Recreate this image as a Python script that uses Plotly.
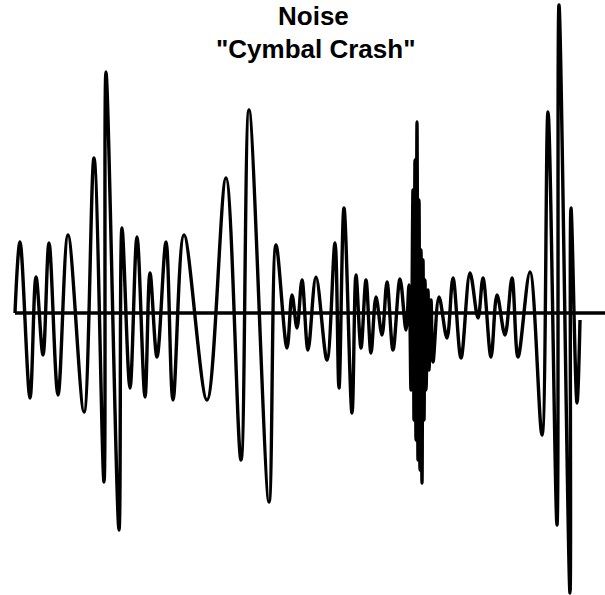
import plotly.graph_objects as go

BASE = 313
# extrema: (x pixel, y pixel)
t = [15, 20, 30, 36, 43, 49, 58, 68, 84, 94, 104, 106, 119, 122, 130, 137, 145, 150, 157, 166, 173, 184,
     207, 226, 241, 249, 269, 276, 287, 292, 297, 302, 308, 316, 327, 335, 339, 344, 352, 356, 361, 366,
     371, 376, 382, 387, 393, 400,
     406, 409, 411, 413, 414, 415, 416, 417, 418, 419, 420, 421, 422, 423, 424, 425, 426, 428, 429, 431, 433,
     439, 447, 453, 461, 470, 478, 483, 491, 497, 505, 512, 518, 530, 542, 548, 557, 559, 570, 571, 577, 580]
ypix = [313, 242, 398, 277, 355, 243, 395, 235, 412, 158, 482, 72, 530, 228, 388, 237, 397, 273, 357, 242, 400, 235,
        400, 178, 460, 110, 502, 245, 348, 295, 328, 280, 350, 277, 360, 243, 388, 208, 413, 275, 348, 280,
        353, 297, 335, 282, 350, 279,
        330, 285, 390, 190, 420, 160, 440, 122, 460, 200, 470, 250, 483, 260, 420, 280, 390, 290, 370, 300, 362,
        297, 338, 278, 358, 273, 318, 278, 357, 295, 335, 278, 357, 272, 435, 112, 525, 5, 593, 208, 403, 320]
amp = [BASE - v for v in ypix]

title_lines = ["Noise", "\"Cymbal Crash\""]

W, H = 605, 595

fig = go.Figure()
fig.add_trace(go.Scatter(x=[15, 605], y=[0, 0], mode="lines",
                         line=dict(color="black", width=3.5), hoverinfo="skip"))
fig.add_trace(go.Scatter(x=t, y=amp, mode="lines",
                         line=dict(color="black", width=3.4, shape="spline", smoothing=1.0),
                         hoverinfo="skip"))

fig.add_annotation(text="<b>%s</b>" % title_lines[0], xref="paper", yref="paper",
                   x=313 / W, y=1 - 16 / H, xanchor="center", yanchor="middle", showarrow=False,
                   font=dict(family="Liberation Sans Narrow, Arial Narrow, sans-serif", size=26, color="black"))
fig.add_annotation(text="<b>%s</b>" % title_lines[1], xref="paper", yref="paper",
                   x=316 / W, y=1 - 49 / H, xanchor="center", yanchor="middle", showarrow=False,
                   font=dict(family="Liberation Sans Narrow, Arial Narrow, sans-serif", size=26, color="black"))

fig.update_layout(width=W, height=H, margin=dict(l=0, r=0, t=0, b=0),
                  paper_bgcolor="white", plot_bgcolor="white", showlegend=False,
                  xaxis=dict(range=[0, W], visible=False, fixedrange=True),
                  yaxis=dict(range=[BASE - H, BASE], visible=False, fixedrange=True))
fig.write_html("out.html", config={"displayModeBar": False},
               post_script="document.body.style.margin='0';document.body.style.overflow='hidden';")
